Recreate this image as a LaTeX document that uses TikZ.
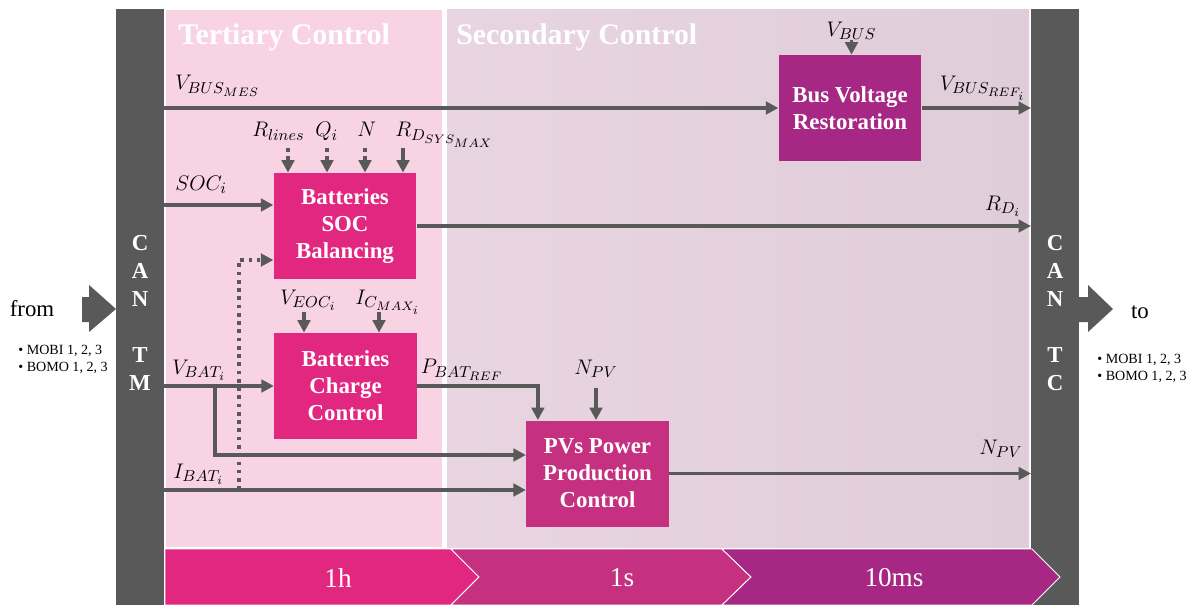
\documentclass[tikz,border=0pt]{standalone}
\usepackage{fontspec}
\setmainfont{Liberation Serif}
\usetikzlibrary{arrows.meta}
\DeclareMathSizes{12.4}{12.4}{9.2}{7.2}

\definecolor{bargray}{HTML}{595959}
\definecolor{terbg}{HTML}{F8D3E4}
\definecolor{secbgl}{HTML}{E9D5E2}
\definecolor{secbgr}{HTML}{E0CDDA}
\definecolor{magA}{HTML}{E1277F}
\definecolor{magB}{HTML}{C53080}
\definecolor{magC}{HTML}{A62884}

\begin{document}
\begin{tikzpicture}[
  blk/.style={rectangle, fill=#1, text=white, minimum width=2.85cm, minimum height=2.12cm,
    align=center, inner sep=1pt, font=\fontsize{13}{15.3}\selectfont\bfseries},
  sig/.style={line width=2.1pt, draw=bargray, -{Triangle[length=2.5mm,width=2.5mm]}},
  dsig/.style={sig, dash pattern=on 2.1pt off 2.6pt},
  lbl/.style={font=\fontsize{12.4}{14}\selectfont, inner sep=0pt},
  ttl/.style={text=white, inner sep=0pt, font=\fontsize{17}{20}\selectfont\bfseries},
  canlbl/.style={text=white, align=center, inner sep=0pt, font=\fontsize{13}{15.9}\selectfont\bfseries},
  tlabel/.style={text=white, inner sep=0pt, font=\fontsize{15.5}{18}\selectfont},
  src/.style={inner sep=0pt, font=\fontsize{13}{15}\selectfont},
  lst/.style={inner sep=0pt, align=left, font=\fontsize{8}{9.6}\selectfont},
  chev/.style={fill=#1, draw=white, line width=0.5pt}
]
  \useasboundingbox (0,0) rectangle (23.88,-12.1);

  % Background panels
  \fill[terbg] (3.32,-0.2) rectangle (8.84,-10.94);
  \fill[left color=secbgl, right color=secbgr] (8.94,-0.2) rectangle (20.58,-10.94);
  \node[ttl, anchor=west] (tert) at (3.56,-0.74) {Tertiary Control};
  \node[ttl, anchor=west] (sec) at (9.12,-0.74) {Secondary Control};

  % CAN bars
  \fill[bargray] (2.32,-0.18) rectangle (3.28,-12.1);
  \fill[bargray] (20.62,-0.18) rectangle (21.58,-12.1);
  \node[canlbl] (cantm) at (2.8,-6.26) {C\\A\\N\\\mbox{}\\T\\M};
  \node[canlbl] (cantc) at (21.1,-6.26) {C\\A\\N\\\mbox{}\\T\\C};
  \coordinate (tcedge) at (20.62,0);

  % From / to
  \fill[bargray] (1.64,-5.94) -- (1.78,-5.94) -- (1.78,-5.7) -- (2.32,-6.18)
    -- (1.78,-6.64) -- (1.78,-6.44) -- (1.64,-6.44) -- cycle;
  \fill[bargray] (21.58,-5.94) -- (21.76,-5.94) -- (21.76,-5.7) -- (22.26,-6.18)
    -- (21.76,-6.64) -- (21.76,-6.44) -- (21.58,-6.44) -- cycle;
  \node[src] (from) at (0.64,-6.18) {from};
  \node[src] (to) at (22.8,-6.24) {to};
  \node[lst, anchor=west] (fromlst) at (0.36,-7.19) {\textbullet\ MOBI 1, 2, 3\\\textbullet\ BOMO 1, 2, 3};
  \node[lst, anchor=west] (tolst) at (21.94,-7.37) {\textbullet\ MOBI 1, 2, 3\\\textbullet\ BOMO 1, 2, 3};

  % Time scale
  \fill[chev=magA] (3.3,-10.98) -- (9.02,-10.98) -- (9.58,-11.54) -- (9.02,-12.1) -- (3.3,-12.1) -- cycle;
  \fill[chev=magB] (9.02,-10.98) -- (14.44,-10.98) -- (15.02,-11.54) -- (14.44,-12.1)
    -- (9.02,-12.1) -- (9.58,-11.54) -- cycle;
  \fill[chev=magC] (14.44,-10.98) -- (20.64,-10.98) -- (21.2,-11.54) -- (20.64,-12.1)
    -- (14.44,-12.1) -- (15.02,-11.54) -- cycle;
  \node[tlabel] (t1) at (6.76,-11.56) {1h};
  \node[tlabel] (t2) at (12.44,-11.56) {1s};
  \node[tlabel] (t3) at (17.88,-11.56) {10ms};

  % Blocks
  \node[blk=magA] (soc) at (6.9,-4.52) {Batteries\\SOC\\Balancing};
  \node[blk=magA] (charge) at (6.91,-7.72) {Batteries\\Charge\\Control};
  \node[blk=magB] (pv) at (11.95,-9.47) {PVs Power\\Production\\Control};
  \node[blk=magC] (bus) at (17.0,-2.16) {Bus Voltage\\Restoration};

  % Inputs from CAN TM
  \coordinate (vbusin) at (3.28,-2.16);
  \coordinate (socin) at (3.28,-4.1);
  \coordinate (vbatin) at (3.28,-7.72);
  \coordinate (ibatin) at (3.28,-9.8);
  \coordinate (vbr) at (4.3,-7.72);
  \coordinate (fb) at (4.78,-9.8);
  \node[lbl, anchor=west] (lvbusmes) at (3.5,-1.72) {$V_{BUS_{MES}}$};
  \node[lbl, anchor=west] (lsoc) at (3.5,-3.7) {$SOC_i$};
  \node[lbl, anchor=west] (lvbat) at (3.44,-7.4) {$V_{BAT_i}$};
  \node[lbl, anchor=west] (libat) at (3.46,-9.48) {$I_{BAT_i}$};

  \draw[sig] (vbusin) -- (bus.west);
  \draw[sig] (socin) -- (socin -| soc.west);
  \draw[sig] (vbatin) -- (charge.west);
  \draw[sig] (vbr) |- ([yshift=0.37cm]pv.west);
  \draw[sig] (ibatin) -- ([yshift=-0.33cm]pv.west);
  \draw[dsig] (fb) |- ([yshift=-0.68cm]soc.west);

  % Parameters of SOC balancing
  \node[lbl, anchor=base west] (lrl) at (5.04,-2.74) {$R_{lines}$};
  \node[lbl, anchor=base west] (lq) at (6.3,-2.74) {$Q_i$};
  \node[lbl, anchor=base west] (ln) at (7.14,-2.74) {$N$};
  \node[lbl, anchor=base west] (lrdmax) at (7.9,-2.74) {$R_{D_{SYS_{MAX}}}$};
  \coordinate (rl) at (5.76,-2.96);
  \coordinate (q) at (6.54,-2.96);
  \coordinate (n) at (7.3,-2.96);
  \coordinate (rdmax) at (8.06,-2.96);
  \draw[dsig] (rl) -- (rl |- soc.north);
  \draw[dsig] (q) -- (q |- soc.north);
  \draw[dsig] (n) -- (n |- soc.north);
  \draw[sig] (rdmax) -- (rdmax |- soc.north);

  % Parameters of charge control
  \node[lbl, anchor=base west] (lveoc) at (5.6,-6.08) {$V_{EOC_i}$};
  \node[lbl, anchor=base west] (licmax) at (7.1,-6.08) {$I_{C_{MAX_i}}$};
  \coordinate (veoc) at (6.08,-6.24);
  \coordinate (icmax) at (7.58,-6.24);
  \draw[sig] (veoc) -- (veoc |- charge.north);
  \draw[sig] (icmax) -- (icmax |- charge.north);

  % PV control inputs
  \node[lbl] (lpbat) at (9.24,-7.4) {$P_{BAT_{REF}}$};
  \node[lbl] (lnpvin) at (11.92,-7.38) {$N_{PV}$};
  \coordinate (npvtop) at (11.92,-7.76);
  \draw[sig] (charge.east) -| ([xshift=0.24cm]pv.north west);
  \draw[sig] (npvtop) -- (npvtop |- pv.north);

  % Bus voltage input
  \node[lbl] (lvbus) at (17.03,-0.62) {$V_{BUS}$};
  \draw[sig] (lvbus.south) -- (lvbus.south |- bus.north);

  % Outputs to CAN TC
  \node[lbl] (lvbusref) at (19.66,-1.76) {$V_{BUS_{REF_i}}$};
  \node[lbl] (lrd) at (20.06,-4.12) {$R_{D_i}$};
  \node[lbl] (lnpvout) at (20.02,-8.98) {$N_{PV}$};
  \draw[sig] (bus.east) -- (bus.east -| tcedge);
  \draw[sig] (soc.east) -- (soc.east -| tcedge);
  \draw[sig] (pv.east) -- (pv.east -| tcedge);
\end{tikzpicture}
\end{document}
